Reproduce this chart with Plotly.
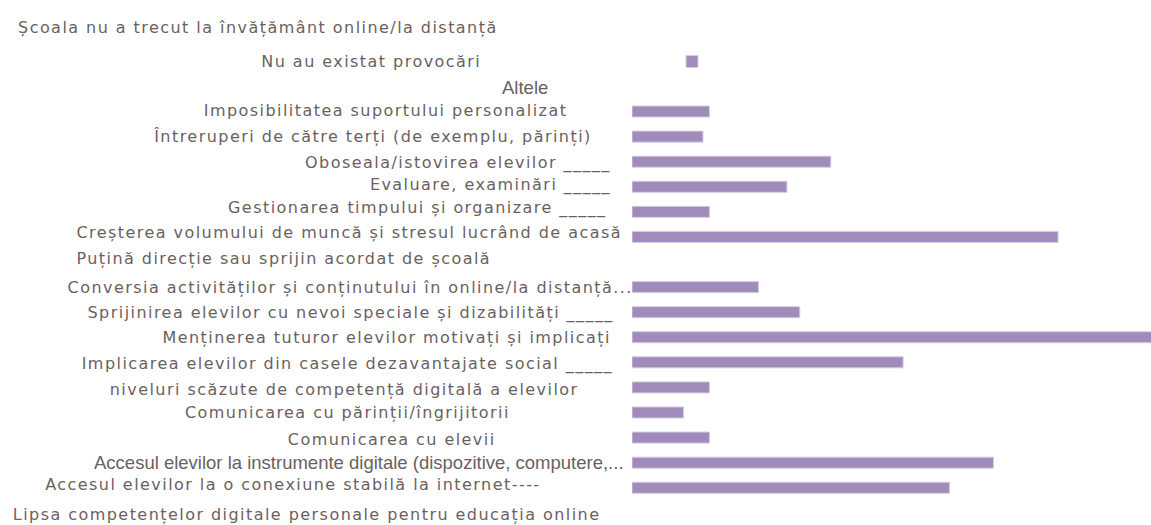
import plotly.graph_objects as go

categories = [
    "Școala nu a trecut la învățământ online/la distanță",
    "Nu au existat provocări",
    "Altele",
    "Imposibilitatea suportului personalizat",
    "Întreruperi de către terți (de exemplu, părinți)",
    "Oboseala/istovirea elevilor _____",
    "Evaluare, examinări _____",
    "Gestionarea timpului și organizare _____",
    "Creșterea volumului de muncă și stresul lucrând de acasă",
    "Puțină direcție sau sprijin acordat de școală",
    "Conversia activităților și conținutului în online/la distanță...",
    "Sprijinirea elevilor cu nevoi speciale și dizabilități _____",
    "Menținerea tuturor elevilor motivați și implicați",
    "Implicarea elevilor din casele dezavantajate social _____",
    "niveluri scăzute de competență digitală a elevilor",
    "Comunicarea cu părinții/îngrijitorii",
    "Comunicarea cu elevii",
    "Accesul elevilor la instrumente digitale (dispozitive, computere,...",
    "Accesul elevilor la o conexiune stabilă la internet----",
    "Lipsa competențelor digitale personale pentru educația online",
]

values = [None, None, None, 3.0, 2.75, 7.7, 6.0, 3.0, 16.5, None,
          4.9, 6.5, 20.5, 10.5, 3.0, 2.0, 3.0, 14.0, 12.3, None]

# --- layout / style (pixel positions of label centres, fonts) ---
W, H = 1151, 525
PLOT_LEFT = 632
label_center_px = [258, 371, 524.5, 385.5, 372.5, 458.5, 490.5, 417.5, 349, 283,
                   349.5, 351, 386.5, 348, 344, 347.5, 391, 359, 292.5, 306.5]
label_yshift = [9, 0, -1, 1, 0, -1, 2, 4, 4, 4,
                0, -1, 0, -2, -2, 0, -2, 0, 3, -2]
narrow = {2, 17}
TEXT_COLOR = "#6b5f61"
BAR_COLOR = "#a08bba"

fig = go.Figure()
fig.add_trace(go.Bar(
    y=list(range(len(categories))),
    x=values,
    orientation="h",
    width=0.44,
    name=" ",
    showlegend=True,
    marker=dict(color=BAR_COLOR, line=dict(color="#d6cce4", width=1)),
    hoverinfo="x+text",
    hovertext=categories,
))

annotations = []
for i, lab in enumerate(categories):
    annotations.append(dict(
        text=lab,
        x=(label_center_px[i] - PLOT_LEFT) / (W - PLOT_LEFT),
        xref="paper",
        y=i,
        yref="y",
        xanchor="center",
        yanchor="middle",
        yshift=label_yshift[i],
        showarrow=False,
        font=dict(
            family="Liberation Sans" if i in narrow else "DejaVu Sans",
            size=18.5 if i in narrow else 16,
            color=TEXT_COLOR,
        ),
    ))

fig.update_layout(
    width=W,
    height=H,
    margin=dict(l=PLOT_LEFT, r=0, t=0, b=0),
    plot_bgcolor="white",
    paper_bgcolor="white",
    annotations=annotations,
    showlegend=True,
    legend=dict(
        x=(672 - PLOT_LEFT) / (W - PLOT_LEFT),
        y=1 - 47 / H,
        xanchor="left",
        yanchor="top",
        bgcolor="rgba(0,0,0,0)",
        font=dict(size=12),
    ),
    xaxis=dict(
        range=[0, 20.1],
        showgrid=False,
        zeroline=False,
        showticklabels=False,
        showline=False,
        ticks="",
        fixedrange=True,
    ),
    yaxis=dict(
        type="linear",
        range=[19.486, -1.447],
        showgrid=False,
        zeroline=False,
        showticklabels=False,
        showline=False,
        ticks="",
        fixedrange=True,
    ),
)

post = """
document.body.style.margin='0';
document.body.style.overflow='hidden';
var gd = document.getElementById('{plot_id}');
function spaceLabels(){
  document.querySelectorAll('.annotation-text').forEach(function(e){
    if ((e.style.fontFamily || '').indexOf('DejaVu') >= 0) {
      e.style.letterSpacing = '1.45px';
    }
  });
}
spaceLabels();
setTimeout(spaceLabels, 0);
if (gd && gd.on) { gd.on('plotly_afterplot', spaceLabels); }
"""

fig.write_html("out.html", config={"displayModeBar": False}, post_script=post)
